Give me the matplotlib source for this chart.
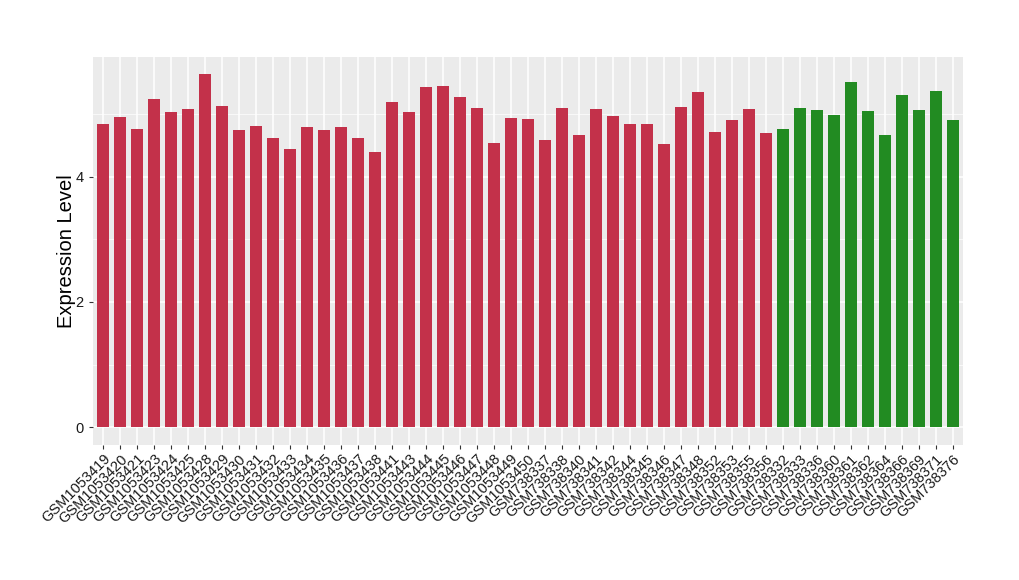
import numpy as np
import matplotlib.pyplot as plt

plt.rcParams['font.family'] = ['Liberation Sans', 'DejaVu Sans']

samples = ["GSM1053419", "GSM1053420", "GSM1053421", "GSM1053423", "GSM1053424",
           "GSM1053425", "GSM1053428", "GSM1053429", "GSM1053430", "GSM1053431",
           "GSM1053432", "GSM1053433", "GSM1053434", "GSM1053435", "GSM1053436",
           "GSM1053437", "GSM1053438", "GSM1053441", "GSM1053443", "GSM1053444",
           "GSM1053445", "GSM1053446", "GSM1053447", "GSM1053448", "GSM1053449",
           "GSM1053450", "GSM738337", "GSM738338", "GSM738340", "GSM738341",
           "GSM738342", "GSM738344", "GSM738345", "GSM738346", "GSM738347",
           "GSM738348", "GSM738352", "GSM738353", "GSM738355", "GSM738356",
           "GSM738332", "GSM738333", "GSM738336", "GSM738360", "GSM738361",
           "GSM738362", "GSM738364", "GSM738366", "GSM738369", "GSM738371",
           "GSM738376"]

values = [4.84, 4.95, 4.76, 5.24, 5.03, 5.08, 5.63, 5.12, 4.74, 4.81,
          4.62, 4.44, 4.79, 4.74, 4.79, 4.62, 4.39, 5.19, 5.03, 5.43,
          5.44, 5.27, 5.09, 4.54, 4.93, 4.92, 4.58, 5.09, 4.66, 5.08,
          4.97, 4.84, 4.84, 4.52, 5.11, 5.35, 4.71, 4.90, 5.08, 4.69,
          4.76, 5.09, 5.06, 4.98, 5.51, 5.04, 4.66, 5.30, 5.06, 5.36,
          4.90]

groups = ["case"] * 40 + ["control"] * 11
group_colors = {"case": "#C3314A", "control": "#228B22"}

fig = plt.figure(figsize=(10.2, 5.8), dpi=100)
ax = fig.add_axes([0.091, 0.233, 0.853, 0.669])
ax.set_facecolor("#EBEBEB")

x = np.arange(len(samples))
ax.bar(x, values, width=0.7, color=[group_colors[g] for g in groups], zorder=3)

ymax = max(values)
pad = ymax * 0.05
ax.set_ylim(-pad, ymax + pad)
ax.set_xlim(-0.6, len(samples) - 0.4)

ax.set_yticks([0, 2, 4])
ax.set_yticks([1, 3, 5], minor=True)
ax.set_xticks(x)
ax.set_xticklabels(samples, rotation=45, ha="right", va="top",
                   rotation_mode="anchor", fontsize=10.5)
ax.tick_params(axis="y", labelsize=10.5, color="#333333", length=3, labelcolor="#1a1a1a")
ax.tick_params(axis="x", color="#333333", length=3, labelcolor="#1a1a1a", pad=2)
ax.tick_params(axis="y", which="minor", length=0)

ax.grid(True, which="major", color="white", linewidth=1.1, zorder=0)
ax.grid(True, which="minor", axis="y", color="white", linewidth=0.5, zorder=0)
ax.set_axisbelow(True)
for s in ax.spines.values():
    s.set_visible(False)

ax.set_ylabel("Expression Level", fontsize=14.5, labelpad=0)

fig.savefig("out.png", dpi=100)
